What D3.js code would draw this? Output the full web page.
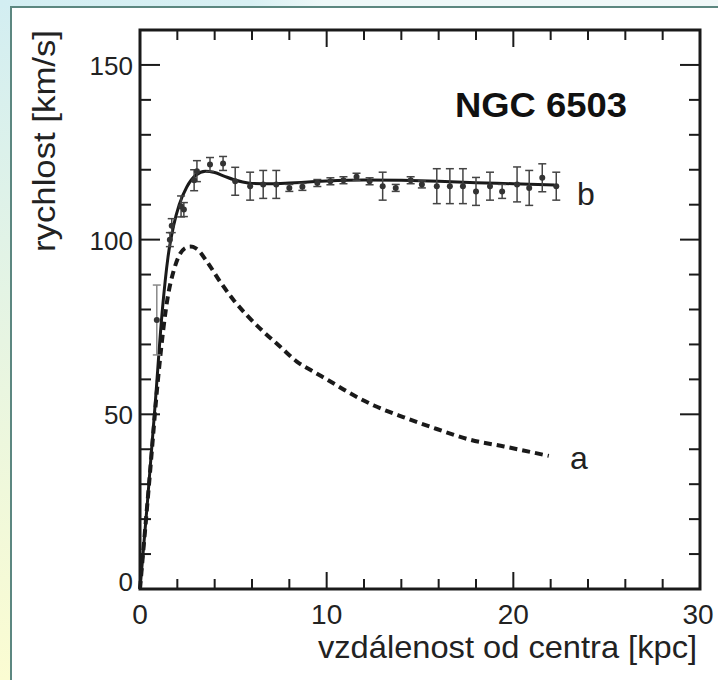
<!DOCTYPE html>
<html>
<head>
<meta charset="utf-8">
<script src="https://cdn.jsdelivr.net/npm/d3@7"></script>
<style>
  body { margin: 0; }
  svg { display: block; font-family: "Liberation Sans", Arial, sans-serif; }
</style>
</head>
<body>
<svg width="718" height="680"></svg>
<script>
// observed rotation curve (points with error bars)
const r_obs = [0.9, 1.6, 1.7, 2.2, 2.35, 2.9, 3.05, 3.75, 4.45, 5.1, 5.9, 6.6, 7.3, 8.0, 8.7, 9.5, 10.2, 10.9,
    11.6, 12.3, 13.0, 13.7, 14.5, 15.1, 15.9, 16.6, 17.3, 18.0, 18.75, 19.4, 20.2, 20.85, 21.55, 22.3];
const v_obs = [77, 100, 104, 109.5, 108.6, 117, 119.6, 121.5, 121.8, 116.7, 115.3, 115.8, 115.8, 114.8, 115.1, 116.2,
    116.7, 117, 118, 116.7, 115.3, 114.8, 117, 115.8, 115.3, 115.3, 115.3, 113.8, 115.3, 113.8, 115.8, 114.8, 117.7, 115.3];
const v_err = [10, 2, 2, 3, 2, 3, 3, 2, 2, 4, 4, 4, 4, 1, 1, 1, 1, 1, 1, 1, 4, 1, 1, 1, 5, 5, 5, 4, 4, 2, 5, 5, 4, 4];

// curve b (fit, solid)
const r_b = [0, 0.4, 0.8, 1.2, 1.5, 1.8, 2.1, 2.5, 3.0, 3.5, 4.0, 4.5, 5.0, 5.5, 6.0, 7.0, 8.0, 9.0, 10.0,
    12.0, 14.0, 16.0, 18.0, 20.0, 22.2];
const v_b = [0, 25, 52, 80, 95, 104, 110, 115, 118.5, 119.6, 119.2, 118.2, 117.2, 116.5, 116.1, 116, 116.2, 116.5,
    116.8, 117.1, 117, 116.7, 116.3, 116, 115.6];

// curve a (visible matter, dashed)
const r_a = [0, 0.5, 1.0, 1.5, 1.8, 2.1, 2.4, 2.7, 3.0, 3.6, 4.3, 5.0, 5.7, 6.6, 7.5, 8.4, 9.3, 10.2, 11.1,
    12.5, 14.1, 15.9, 17.7, 19.5, 21.9];
const v_a = [0, 31, 62, 84, 91, 95.5, 97.5, 98, 97.5, 93.6, 87.9, 82.8, 78.5, 73.7, 69.4, 65.1, 62.2, 59.4, 56.5,
    52.6, 49.2, 45.8, 42.7, 40.8, 38.1];

const x_ticks = [0, 10, 20, 30];
const y_ticks = [0, 50, 100, 150];

let svg = d3.select("svg");

// background + frame
let defs = svg.append("defs");
let grad = defs.append("linearGradient").attr("id", "bg")
    .attr("x1", 0).attr("y1", 0).attr("x2", 0).attr("y2", 1);
grad.append("stop").attr("offset", "0%").attr("stop-color", "#d3eef2");
grad.append("stop").attr("offset", "100%").attr("stop-color", "#fbfcd2");
let gradTop = defs.append("linearGradient").attr("id", "bgtop")
    .attr("x1", 0).attr("y1", 0).attr("x2", 1).attr("y2", 0);
gradTop.append("stop").attr("offset", "0%").attr("stop-color", "#d3eef2");
gradTop.append("stop").attr("offset", "35%").attr("stop-color", "#d8f0f3");
gradTop.append("stop").attr("offset", "45%").attr("stop-color", "#eef8f8");
gradTop.append("stop").attr("offset", "100%").attr("stop-color", "#f0f8f8");
svg.append("rect").attr("width", 718).attr("height", 680).attr("fill", "url(#bg)");
svg.append("rect").attr("width", 718).attr("height", 8).attr("fill", "url(#bgtop)");
svg.append("rect").attr("x", 11).attr("y", 7).attr("width", 720).attr("height", 690)
    .attr("fill", "#fff").attr("stroke", "#5c8780").attr("stroke-width", 2);

const pLeft = 140, pRight = 700, pTop = 30, pBottom = 589;

let x = d3.scaleLinear().domain([0, 30]).range([pLeft, pRight]);
let y = d3.scaleLinear().domain([0, 160]).range([pBottom, pTop]);

let ink = "#1a1a1a";

// ticks, all pointing inward
let g = svg.append("g").attr("stroke", ink).attr("stroke-width", 2);
d3.range(0, 31, 2).forEach(function (v) {
    let len = v % 10 === 0 ? 17 : 10;
    g.append("line").attr("x1", x(v)).attr("x2", x(v)).attr("y1", pBottom).attr("y2", pBottom - len);
    g.append("line").attr("x1", x(v)).attr("x2", x(v)).attr("y1", pTop).attr("y2", pTop + len);
});
d3.range(0, 161, 10).forEach(function (v) {
    let len = v % 50 === 0 ? 20 : 11;
    g.append("line").attr("y1", y(v)).attr("y2", y(v)).attr("x1", pLeft).attr("x2", pLeft + len);
    g.append("line").attr("y1", y(v)).attr("y2", y(v)).attr("x1", pRight).attr("x2", pRight - len);
});

svg.append("rect").attr("x", pLeft).attr("y", pTop)
    .attr("width", pRight - pLeft).attr("height", pBottom - pTop)
    .attr("fill", "none").attr("stroke", ink).attr("stroke-width", 3);

// tick labels
svg.append("g").selectAll("text").data(x_ticks).enter().append("text")
    .attr("x", function (d) { return d === 30 ? x(d) - 2 : x(d); })
    .attr("y", 624)
    .attr("text-anchor", "middle")
    .attr("font-size", 28)
    .attr("fill", "#222")
    .text(function (d) { return d; });

svg.append("g").selectAll("text").data(y_ticks).enter().append("text")
    .attr("x", 133)
    .attr("y", function (d) { return d === 0 ? y(d) + 2 : y(d) + 10; })
    .attr("text-anchor", "end")
    .attr("font-size", 26)
    .attr("fill", "#222")
    .text(function (d) { return d; });

// axis titles
svg.append("text").attr("x", 697).attr("y", 658)
    .attr("text-anchor", "end").attr("font-size", 32).attr("fill", "#222")
    .attr("textLength", 379).attr("lengthAdjust", "spacingAndGlyphs")
    .text("vzdálenost od centra [kpc]");

svg.append("text")
    .attr("transform", "translate(55,30) rotate(-90)")
    .attr("text-anchor", "end").attr("font-size", 32).attr("fill", "#222")
    .attr("textLength", 222).attr("lengthAdjust", "spacingAndGlyphs")
    .text("rychlost [km/s]");

svg.append("text").attr("x", 627).attr("y", 117)
    .attr("text-anchor", "end").attr("font-size", 35).attr("font-weight", "bold").attr("fill", "#111")
    .attr("textLength", 172).attr("lengthAdjust", "spacingAndGlyphs")
    .text("NGC 6503");

// curves
let line = d3.line()
    .x(function (d) { return x(d[0]); })
    .y(function (d) { return y(d[1]); })
    .curve(d3.curveMonotoneX);

svg.append("path").datum(d3.zip(r_a, v_a))
    .attr("d", line)
    .attr("fill", "none").attr("stroke", ink).attr("stroke-width", 4)
    .attr("stroke-dasharray", "8,5");

svg.append("path").datum(d3.zip(r_b, v_b))
    .attr("d", line)
    .attr("fill", "none").attr("stroke", ink).attr("stroke-width", 3);

// error bars + points
let obs = d3.zip(r_obs, v_obs, v_err);
let eb = svg.append("g").attr("stroke", "#444").attr("stroke-width", 1.5);
eb.selectAll("line.bar").data(obs).enter().append("line").attr("class", "bar")
    .attr("x1", function (d) { return x(d[0]); })
    .attr("x2", function (d) { return x(d[0]); })
    .attr("y1", function (d) { return y(d[1] - d[2]); })
    .attr("y2", function (d) { return y(d[1] + d[2]); })
    .attr("stroke", function (d, i) { return i === 0 ? "#888" : null; });
[1, -1].forEach(function (s) {
    eb.selectAll("line.cap" + (s > 0 ? "u" : "d")).data(obs).enter().append("line")
        .attr("class", "cap" + (s > 0 ? "u" : "d"))
        .attr("x1", function (d) { return x(d[0]) - 4; })
        .attr("x2", function (d) { return x(d[0]) + 4; })
        .attr("y1", function (d) { return y(d[1] + s * d[2]); })
        .attr("y2", function (d) { return y(d[1] + s * d[2]); })
        .attr("stroke", function (d, i) { return i === 0 ? "#888" : null; });
});
svg.append("g").selectAll("circle").data(obs).enter().append("circle")
    .attr("cx", function (d) { return x(d[0]); })
    .attr("cy", function (d) { return y(d[1]); })
    .attr("r", 3)
    .attr("fill", "#333");

// curve labels
svg.append("text").attr("x", 577).attr("y", 205).attr("font-size", 32).attr("fill", "#222").text("b");
svg.append("text").attr("x", 570).attr("y", 469).attr("font-size", 32).attr("fill", "#222").text("a");
</script>
</body>
</html>
